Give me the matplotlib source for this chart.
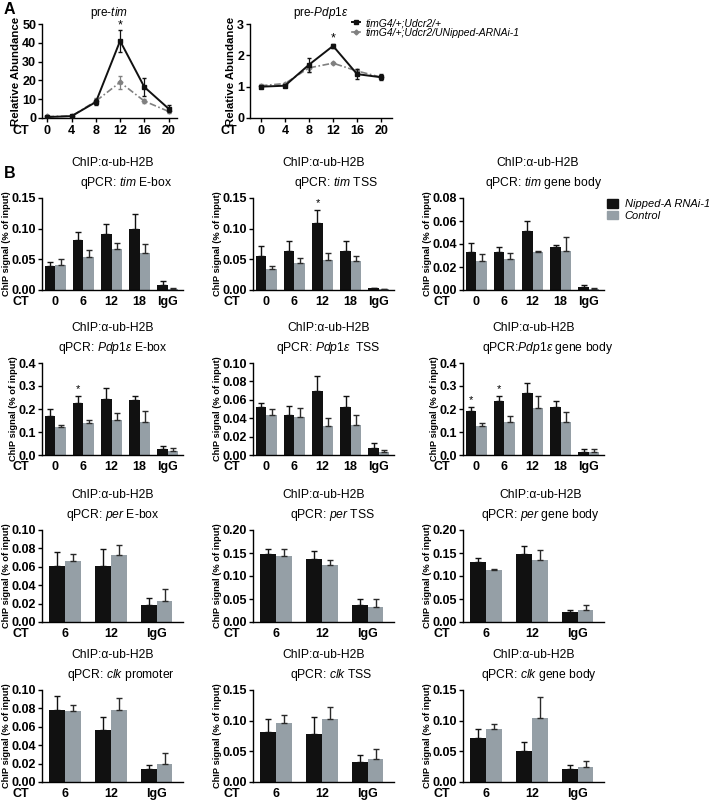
import matplotlib
matplotlib.use("Agg")
import matplotlib.pyplot as plt
from matplotlib.lines import Line2D
from matplotlib.patches import Patch
import numpy as np

plt.rcParams['font.family'] = ['Liberation Sans', 'DejaVu Sans']
plt.rcParams['mathtext.fontset'] = 'custom'
plt.rcParams['mathtext.rm'] = 'Liberation Sans'
plt.rcParams['mathtext.it'] = 'Liberation Sans:italic'
plt.rcParams['mathtext.bf'] = 'Liberation Sans:bold'

# ---------------- Panel A data ----------------
ct_A = [0, 4, 8, 12, 16, 20]
tim_ctrl = [0.5, 1.0, 8.5, 41.0, 16.5, 5.0]
tim_ctrl_err = [0.3, 0.5, 1.5, 6.0, 5.0, 2.0]
tim_rnai = [0.8, 1.0, 9.0, 19.0, 9.0, 3.5]
tim_rnai_err = [0.3, 0.4, 1.5, 3.5, 1.0, 1.0]
pdp_ctrl = [1.0, 1.03, 1.7, 2.3, 1.4, 1.3]
pdp_ctrl_err = [0.03, 0.03, 0.22, 0.07, 0.15, 0.1]
pdp_rnai = [1.03, 1.1, 1.6, 1.75, 1.5, 1.3]
pdp_rnai_err = [0.04, 0.03, 0.12, 0.03, 0.05, 0.05]
legend_A = ['timG4/+;Udcr2/+', 'timG4/+;Udcr2/UNipped-ARNAi-1']

# ---------------- Panel B data ----------------
groups5 = ['0', '6', '12', '18', 'IgG']
groups3 = ['6', '12', 'IgG']
legend_B = ['Nipped-A RNAi-1', 'Control']

tim_ebox_rnai = [0.039, 0.082, 0.092, 0.100, 0.008]
tim_ebox_rnai_err = [0.006, 0.012, 0.015, 0.024, 0.006]
tim_ebox_ctrl = [0.041, 0.054, 0.067, 0.060, 0.002]
tim_ebox_ctrl_err = [0.009, 0.011, 0.009, 0.015, 0.002]

tim_tss_rnai = [0.056, 0.063, 0.109, 0.064, 0.003]
tim_tss_rnai_err = [0.015, 0.017, 0.021, 0.016, 0.001]
tim_tss_ctrl = [0.035, 0.044, 0.049, 0.047, 0.001]
tim_tss_ctrl_err = [0.004, 0.008, 0.012, 0.009, 0.001]

tim_body_rnai = [0.033, 0.033, 0.051, 0.037, 0.003]
tim_body_rnai_err = [0.008, 0.004, 0.009, 0.002, 0.001]
tim_body_ctrl = [0.025, 0.027, 0.033, 0.034, 0.001]
tim_body_ctrl_err = [0.006, 0.005, 0.001, 0.012, 0.001]

pdp_ebox_rnai = [0.170, 0.228, 0.245, 0.240, 0.025]
pdp_ebox_rnai_err = [0.030, 0.027, 0.047, 0.015, 0.015]
pdp_ebox_ctrl = [0.120, 0.140, 0.153, 0.145, 0.018]
pdp_ebox_ctrl_err = [0.012, 0.012, 0.030, 0.045, 0.012]

pdp_tss_rnai = [0.052, 0.043, 0.070, 0.052, 0.008]
pdp_tss_rnai_err = [0.005, 0.010, 0.016, 0.012, 0.005]
pdp_tss_ctrl = [0.044, 0.041, 0.031, 0.033, 0.003]
pdp_tss_ctrl_err = [0.006, 0.010, 0.009, 0.011, 0.002]

pdp_body_rnai = [0.190, 0.235, 0.270, 0.210, 0.015]
pdp_body_rnai_err = [0.020, 0.020, 0.045, 0.025, 0.010]
pdp_body_ctrl = [0.125, 0.145, 0.205, 0.145, 0.015]
pdp_body_ctrl_err = [0.015, 0.025, 0.050, 0.040, 0.010]

per_ebox_rnai = [0.061, 0.061, 0.019]
per_ebox_rnai_err = [0.015, 0.018, 0.007]
per_ebox_ctrl = [0.066, 0.073, 0.023]
per_ebox_ctrl_err = [0.008, 0.011, 0.013]

per_tss_rnai = [0.147, 0.136, 0.036]
per_tss_rnai_err = [0.012, 0.018, 0.014]
per_tss_ctrl = [0.144, 0.125, 0.033]
per_tss_ctrl_err = [0.015, 0.010, 0.018]

per_body_rnai = [0.130, 0.148, 0.022]
per_body_rnai_err = [0.010, 0.018, 0.004]
per_body_ctrl = [0.112, 0.134, 0.027]
per_body_ctrl_err = [0.003, 0.022, 0.011]

clk_prom_rnai = [0.078, 0.056, 0.014]
clk_prom_rnai_err = [0.015, 0.015, 0.005]
clk_prom_ctrl = [0.077, 0.078, 0.020]
clk_prom_ctrl_err = [0.007, 0.013, 0.012]

clk_tss_rnai = [0.081, 0.079, 0.033]
clk_tss_rnai_err = [0.022, 0.027, 0.011]
clk_tss_ctrl = [0.097, 0.103, 0.037]
clk_tss_ctrl_err = [0.012, 0.019, 0.016]

clk_body_rnai = [0.072, 0.051, 0.021]
clk_body_rnai_err = [0.015, 0.015, 0.007]
clk_body_ctrl = [0.087, 0.105, 0.024]
clk_body_ctrl_err = [0.008, 0.033, 0.010]

W, H = 709, 801
fig = plt.figure(figsize=(W / 100, H / 100), dpi=100)

BLACK = '#111111'
GRAY = '#959fa6'
TICK_FS = 9

def px_axes(left, top, width, height):
    return fig.add_axes([left / W, 1 - (top + height) / H, width / W, height / H])

def style(ax):
    for s in ['top', 'right']:
        ax.spines[s].set_visible(False)
    for s in ['left', 'bottom']:
        ax.spines[s].set_linewidth(1.0)
    ax.tick_params(axis='y', direction='out', length=3, width=1, pad=1.2, labelsize=TICK_FS)
    for lab in ax.get_yticklabels() + ax.get_xticklabels():
        lab.set_fontweight('bold')

def ct_label(ax, dx=-14, dy=-4):
    ax.annotate('CT', xy=(0, 0), xycoords='axes fraction', xytext=(dx, dy),
                textcoords='offset points', ha='center', va='top',
                fontsize=TICK_FS, fontweight='bold')

# ---------------- Panel A ----------------
def line_panel(ax, ctrl, ctrl_err, rnai, rnai_err, xlim, ymax, yticks, title, star_idx, star_y):
    ax.errorbar(ct_A, rnai, yerr=rnai_err, color='#808080', ls=(0, (4, 1.5, 1, 1.5)), lw=1.2,
                marker='D', ms=2.5, capsize=1.5, elinewidth=0.9, zorder=2)
    ax.errorbar(ct_A, ctrl, yerr=ctrl_err, color=BLACK, ls='-', lw=1.4,
                marker='s', ms=3, capsize=1.5, elinewidth=0.9, zorder=3)
    ax.set_xlim(*xlim)
    ax.set_ylim(0, ymax)
    ax.set_xticks(ct_A)
    ax.set_xticklabels([str(c) for c in ct_A])
    ax.set_yticks(yticks)
    ax.tick_params(axis='x', direction='out', length=3, width=1, pad=2, labelsize=TICK_FS)
    ax.set_ylabel('Relative Abundance', fontsize=8.2, fontweight='bold', labelpad=1)
    ax.set_title(title, fontsize=8.5, pad=6)
    ax.text(ct_A[star_idx], star_y, '*', ha='center', va='center', fontsize=9, clip_on=False)
    style(ax)
    ct_label(ax, dx=-15, dy=-5)

axA1 = px_axes(42, 24, 135, 94)
line_panel(axA1, tim_ctrl, tim_ctrl_err, tim_rnai, tim_rnai_err, (-0.9, 21.4), 50,
           [0, 10, 20, 30, 40, 50], 'pre-$\\it{tim}$', 3, 49)
axA2 = px_axes(250, 24, 142, 94)
line_panel(axA2, pdp_ctrl, pdp_ctrl_err, pdp_rnai, pdp_rnai_err, (-1.8, 21.8), 3,
           [0, 1, 2, 3], 'pre-$\\it{Pdp1ε}$', 3, 2.55)
axA2.set_yticklabels(['0', '1', '2', '3'])
for lab in axA2.get_yticklabels():
    lab.set_fontweight('bold')

hA = [Line2D([], [], color=BLACK, marker='s', ms=3, lw=1.4),
      Line2D([], [], color='#808080', marker='D', ms=2.5, lw=1.2)]
legA = fig.legend(hA, legend_A, loc='upper left', bbox_to_anchor=(352 / W, 1 - 18 / H),
                  frameon=False, fontsize=7.5, handlelength=0.8, handletextpad=0.5,
                  labelspacing=0.0, borderaxespad=0, borderpad=0)
for t in legA.get_texts():
    t.set_fontstyle('italic')

fig.text(4 / W, 1 - 2 / H, 'A', fontsize=11.5, fontweight='bold', va='top', ha='left')
fig.text(4 / W, 1 - 166 / H, 'B', fontsize=11.5, fontweight='bold', va='top', ha='left')

# ---------------- Panel B ----------------
def bar_panel(ax, groups, rnai, rnai_err, ctrl, ctrl_err, ymax, ystep, fmt, t2, dx1, dx2, stars):
    n = len(groups)
    x = np.arange(n)
    if n == 5:
        bw = 0.36
        ax.set_xlim(-0.48, 4.55)
    else:
        bw = 0.34
        ax.set_xlim(-0.5, 2.57)
    ax.bar(x - bw / 2, rnai, bw, color=BLACK, zorder=2)
    ax.bar(x + bw / 2, ctrl, bw, color=GRAY, zorder=2)
    ax.errorbar(x - bw / 2, rnai, yerr=[np.zeros(n), rnai_err], fmt='none',
                ecolor=BLACK, elinewidth=1, capsize=2, capthick=1, zorder=3)
    ax.errorbar(x + bw / 2, ctrl, yerr=[np.zeros(n), ctrl_err], fmt='none',
                ecolor='#2a2a2a', elinewidth=1, capsize=2, capthick=1, zorder=3)
    for i in stars:
        ax.text(x[i] - bw / 2, rnai[i] + rnai_err[i] + ymax * 0.02, '*',
                ha='center', va='bottom', fontsize=8)
    ax.set_ylim(0, ymax)
    ticks = np.arange(0, ymax + ystep / 2, ystep)
    ax.set_yticks(ticks)
    ax.set_yticklabels([fmt.format(t) for t in ticks])
    ax.set_xticks(x)
    ax.set_xticklabels(groups)
    ax.tick_params(axis='x', length=0, pad=4, labelsize=TICK_FS)
    ax.set_ylabel('ChIP signal (% of input)', fontsize=6.7, fontweight='bold', labelpad=0.5)
    ax.annotate('ChIP:α-ub-H2B', xy=(0.5, 1), xycoords='axes fraction',
                xytext=(dx1 * 0.72, 25), textcoords='offset points',
                ha='center', va='center', fontsize=8.7)
    ax.annotate(t2, xy=(0.5, 1), xycoords='axes fraction',
                xytext=(dx2 * 0.72, 11), textcoords='offset points',
                ha='center', va='center', fontsize=8.7)
    style(ax)
    ct_label(ax, dx=-15, dy=-4)

cols_x = [42, 253, 463]
rows_top = [198, 363, 530, 690]
AXW, AXH = 141, 92

panels = [
    (0, 0, groups5, tim_ebox_rnai, tim_ebox_rnai_err, tim_ebox_ctrl, tim_ebox_ctrl_err, 0.15, 0.05, '{:.2f}',
     'qPCR: $\\it{tim}$ E-box', 0, 14, []),
    (0, 1, groups5, tim_tss_rnai, tim_tss_rnai_err, tim_tss_ctrl, tim_tss_ctrl_err, 0.15, 0.05, '{:.2f}',
     'qPCR: $\\it{tim}$ TSS', 0, 12, [2]),
    (0, 2, groups5, tim_body_rnai, tim_body_rnai_err, tim_body_ctrl, tim_body_ctrl_err, 0.08, 0.02, '{:.2f}',
     'qPCR: $\\it{tim}$ gene body', 4, 10, []),
    (1, 0, groups5, pdp_ebox_rnai, pdp_ebox_rnai_err, pdp_ebox_ctrl, pdp_ebox_ctrl_err, 0.4, 0.1, '{:.1f}',
     'qPCR: $\\it{Pdp1ε}$ E-box', 0, 0, [1]),
    (1, 1, groups5, pdp_tss_rnai, pdp_tss_rnai_err, pdp_tss_ctrl, pdp_tss_ctrl_err, 0.10, 0.02, '{:.2f}',
     'qPCR: $\\it{Pdp1ε}$  TSS', 5, 5, []),
    (1, 2, groups5, pdp_body_rnai, pdp_body_rnai_err, pdp_body_ctrl, pdp_body_ctrl_err, 0.4, 0.1, '{:.1f}',
     'qPCR:$\\it{Pdp1ε}$ gene body', 0, 14, [0, 1]),
    (2, 0, groups3, per_ebox_rnai, per_ebox_rnai_err, per_ebox_ctrl, per_ebox_ctrl_err, 0.10, 0.02, '{:.2f}',
     'qPCR: $\\it{per}$ E-box', 0, 0, []),
    (2, 1, groups3, per_tss_rnai, per_tss_rnai_err, per_tss_ctrl, per_tss_ctrl_err, 0.20, 0.05, '{:.2f}',
     'qPCR: $\\it{per}$ TSS', 0, 9, []),
    (2, 2, groups3, per_body_rnai, per_body_rnai_err, per_body_ctrl, per_body_ctrl_err, 0.20, 0.05, '{:.2f}',
     'qPCR: $\\it{per}$ gene body', 7, 7, []),
    (3, 0, groups3, clk_prom_rnai, clk_prom_rnai_err, clk_prom_ctrl, clk_prom_ctrl_err, 0.10, 0.02, '{:.2f}',
     'qPCR: $\\it{clk}$ promoter', 0, 8, []),
    (3, 1, groups3, clk_tss_rnai, clk_tss_rnai_err, clk_tss_ctrl, clk_tss_ctrl_err, 0.15, 0.05, '{:.2f}',
     'qPCR: $\\it{clk}$ TSS', 0, 8, []),
    (3, 2, groups3, clk_body_rnai, clk_body_rnai_err, clk_body_ctrl, clk_body_ctrl_err, 0.15, 0.05, '{:.2f}',
     'qPCR: $\\it{clk}$ gene body', 0, 5, []),
]

for (r, c, g, ra, rae, ca, cae, ymax, ystep, fmt, t2, dx1, dx2, stars) in panels:
    ax = px_axes(cols_x[c], rows_top[r], AXW, AXH)
    bar_panel(ax, g, ra, rae, ca, cae, ymax, ystep, fmt, t2, dx1, dx2, stars)

hB = [Patch(color=BLACK), Patch(color=GRAY)]
legB = fig.legend(hB, legend_B, loc='upper left', bbox_to_anchor=(607 / W, 1 - 199 / H),
                  frameon=False, fontsize=8, handlelength=1.0, handleheight=0.8,
                  handletextpad=0.6, labelspacing=0.15, borderaxespad=0, borderpad=0)
for t in legB.get_texts():
    t.set_fontstyle('italic')

fig.savefig('out.png', dpi=100)
